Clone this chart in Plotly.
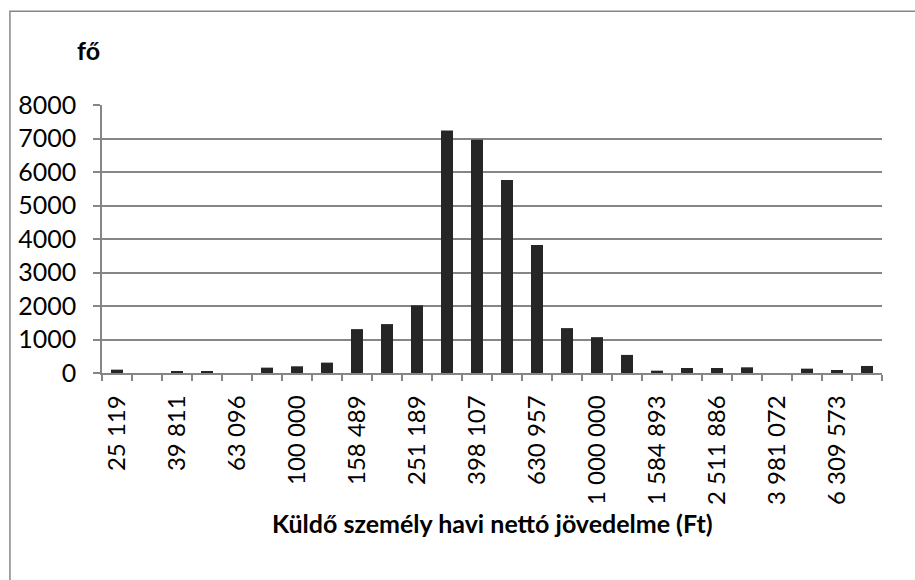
import plotly.graph_objects as go

# Daten: Einkommenskategorien (log-Skala, 10^0.1 Schritte) und Personenzahl
jovedelem = [25119, 31623, 39811, 50119, 63096, 79433, 100000, 125893, 158489,
             199526, 251189, 316228, 398107, 501187, 630957, 794328, 1000000,
             1258925, 1584893, 1995262, 2511886, 3162278, 3981072, 5011872,
             6309573, 7943282]
fo = [100, 0, 50, 50, 0, 160, 200, 310, 1310, 1460, 2020, 7240, 6960, 5760,
      3820, 1340, 1070, 540, 70, 150, 150, 170, 0, 130, 90, 210]
tick_labels = ["25 119", "39 811", "63 096", "100 000", "158 489", "251 189",
               "398 107", "630 957", "1 000 000", "1 584 893", "2 511 886",
               "3 981 072", "6 309 573"]

idx = list(range(len(jovedelem)))
tick_idx = idx[::2]

FONT = "Lato, 'Open Sans', sans-serif"
GRAU = "#868686"

fig = go.Figure()
fig.add_trace(go.Bar(
    x=idx, y=fo,
    customdata=jovedelem,
    marker_color="#262626",
    marker_line_width=0,
    hovertemplate="%{customdata} Ft<br>%{y} fő<extra></extra>",
))

fig.update_layout(
    width=915, height=580,
    margin=dict(l=102, r=33, t=105, b=206.5),
    paper_bgcolor="white",
    plot_bgcolor="white",
    showlegend=False,
    bargap=0.6,
    font=dict(family=FONT, size=25, color="black"),
)

fig.update_xaxes(
    range=[-0.5, len(idx) - 0.5],
    tickmode="array",
    tickvals=tick_idx,
    ticktext=tick_labels,
    tickangle=-90,
    tickfont=dict(size=24),
    ticks="",
    ticklabelstandoff=11,
    showgrid=False,
    showline=True, linecolor=GRAU, linewidth=1.5,
    zeroline=False,
    minor=dict(tickmode="linear", tick0=-0.5, dtick=1, ticks="outside",
               ticklen=6, tickcolor=GRAU, tickwidth=1.5, showgrid=False),
)

fig.update_yaxes(
    range=[0, 8000],
    tickmode="linear", tick0=0, dtick=1000,
    ticks="outside", ticklen=7, tickcolor=GRAU, tickwidth=1.5,
    ticklabelstandoff=12,
    showgrid=True, gridcolor=GRAU, gridwidth=1.5,
    showline=True, linecolor=GRAU, linewidth=1.5,
    zeroline=False,
)

# Achsentitel
fig.add_annotation(text="<b>fő</b>", xref="paper", yref="paper",
                   x=-0.0167, y=1.205, showarrow=False,
                   xanchor="center", yanchor="middle")
fig.add_annotation(text="<b>Küldő személy havi nettó jövedelme (Ft)</b>",
                   xref="paper", yref="paper", x=0.5, y=-0.56,
                   showarrow=False, xanchor="center", yanchor="middle")

# Rahmen des Diagrammbereichs
fig.add_shape(type="rect", xref="paper", yref="paper",
              x0=-0.118, x1=2, y0=-2, y1=1.35,
              line=dict(color=GRAU, width=1.5), layer="below")

# Standard-Seitenrand des Browsers entfernen, keine Modebar
fig.write_html("out.html", config={"displayModeBar": False},
               post_script="document.body.style.margin='0';")
